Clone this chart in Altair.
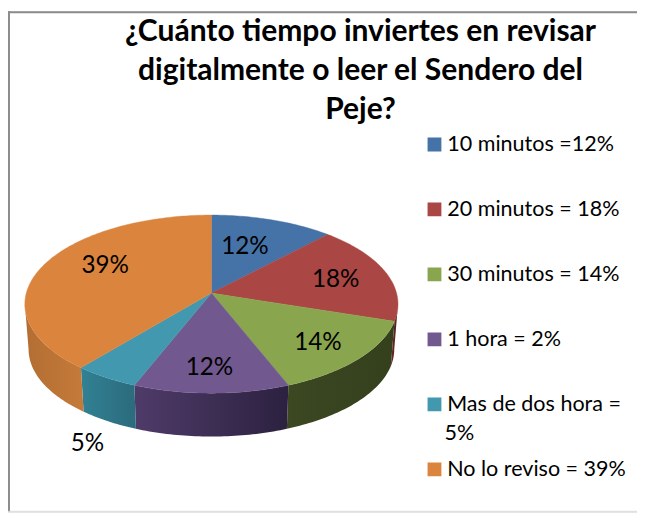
import math
import altair as alt

# ---- data ----
categories = ["10 minutos =12%", "20 minutos = 18%", "30 minutos = 14%", "1 hora = 2%",
              "Mas de dos hora = 5%", "No lo reviso = 39%"]
slice_values = [12, 18, 14, 12, 5, 39]
slice_labels = ["12%", "18%", "14%", "12%", "5%", "39%"]
colors = ["#4572A7", "#AA4643", "#89A54E", "#71588F", "#4198AF", "#DB843D"]
title_lines = ["¿Cuánto tiempo inviertes en revisar",
               "digitalmente o leer el Sendero del", "Peje?"]

# ---- layout of the tilted pie ----
W, H = 637, 507
OFF = 8
CX, CY = 214 - OFF, 293.5 - OFF
A, B, K = 187.5, 88.8, 0.1236
WALL_CY, WALL_S = 339.5 - OFF, 0.98
label_r = [0.59, 0.70, 0.76, 0.77, 1.52, 0.68]
label_turn = [-2.4, 2.1, 1.8, 0.7, -9.3, 8.8]
wall_fill = {
    1: ("#6a2a28", "#4e1f1e"),
    2: ("#3c4822", "#343f1c"),
    3: ("#4f3b69", "#2c2140"),
    4: ("#318194", "#2b6b7c"),
    5: ("#b46e32", "#c47a3a"),
}
# angles where the rim of the tilted disc reaches its left and right extremes
T_RIGHT = math.degrees(math.acos(-K))
T_LEFT = 360 - T_RIGHT


def top(t_deg, r=1.0):
    t = math.radians(t_deg)
    u, v = r * math.sin(t), r * math.cos(t)
    d = 1 + K * v
    return [CX + A * u / d, CY - B * v / d]


def bottom(t_deg):
    t = math.radians(t_deg)
    u, v = math.sin(t), math.cos(t)
    d = 1 + K * v
    return [CX + WALL_S * A * u / d, WALL_CY - WALL_S * B * v / d]


def samples(a, b):
    n = max(2, int(abs(b - a)) + 1)
    return [a + (b - a) * i / (n - 1) for i in range(n)]


edges = [0]
for v in slice_values:
    edges.append(edges[-1] + v * 360 / sum(slice_values))

top_features, walls = [], []
for i, name in enumerate(categories):
    a, b = edges[i], edges[i + 1]
    ring = [[CX, CY]] + [top(t) for t in samples(a, b)] + [[CX, CY]]
    top_features.append({"type": "Feature", "properties": {"name": name},
                         "geometry": {"type": "Polygon", "coordinates": [ring]}})
    if i in wall_fill:
        lo, hi = (max(a, T_RIGHT), min(b, T_LEFT))
        ts = samples(lo, hi)
        w = [top(t) for t in ts] + [bottom(t) for t in reversed(ts)]
        w.append(w[0])
        walls.append((i, {"type": "Feature", "properties": {"name": name},
                          "geometry": {"type": "Polygon", "coordinates": [w]}}))


def geo(features):
    return alt.Data(values={"type": "FeatureCollection", "features": features},
                    format=alt.DataFormat(type="json", property="features"))


wall_layers = []
for i, f in walls:
    c0, c1 = wall_fill[i]
    grad = alt.Gradient(gradient="linear", x1=0, x2=1, y1=0, y2=0,
                        stops=[alt.GradientStop(color=c0, offset=0),
                               alt.GradientStop(color=c1, offset=1)])
    wall_layers.append(alt.Chart(geo([f])).mark_geoshape(fill=grad)
                       .project(type="identity", scale=1, translate=[0, 0]))

faces = (
    alt.Chart(geo(top_features))
    .mark_geoshape(strokeWidth=0.4)
    .encode(
        color=alt.Color(
            "properties.name:N",
            scale=alt.Scale(domain=categories, range=colors),
            sort=categories,
            legend=alt.Legend(
                title=None, orient="none", legendX=429 - OFF, legendY=110.5 - OFF,
                symbolType="square", symbolSize=196, symbolStrokeWidth=0,
                labelFont="Lato", labelFontSize=21.8, labelColor="#000000",
                labelLimit=300, clipHeight=65, rowPadding=0.8, symbolOffset=0, labelOffset=2,
                padding=0,
                labelExpr="replace(datum.label, 'Mas de dos hora = 5%', 'Mas de dos hora =')",
            ),
        ),
        stroke=alt.Color("properties.name:N",
                         scale=alt.Scale(domain=categories, range=colors), legend=None),
    )
    .project(type="identity", scale=1, translate=[0, 0])
)

mids = [(edges[i] + edges[i + 1]) / 2 for i in range(len(slice_values))]
pts = [top(m + tn, r) for m, tn, r in zip(mids, label_turn, label_r)]
slice_rows = [{"lab": l, "px": p[0], "py": p[1]} for l, p in zip(slice_labels, pts)]
slice_text = (
    alt.Chart(alt.Data(values=slice_rows))
    .mark_text(font="Lato", fontSize=24.5, color="#000000", align="center", baseline="middle")
    .encode(x=alt.X("px:Q", scale=None, axis=None), y=alt.Y("py:Q", scale=None, axis=None),
            text="lab:N")
)

# second line of the wrapped legend entry
wrap_text = (
    alt.Chart(alt.Data(values=[{"lab": "5%", "px": 450 - OFF, "py": 435 - OFF}]))
    .mark_text(font="Lato", fontSize=21.8, color="#000000", align="left", baseline="middle")
    .encode(x=alt.X("px:Q", scale=None, axis=None), y=alt.Y("py:Q", scale=None, axis=None),
            text="lab:N")
)

frame = [
    alt.Chart(alt.Data(values=[{"a": 0}])).mark_rule(color="#8c8c8c", strokeWidth=2)
    .encode(x=alt.value(1), y=alt.value(0), y2=alt.value(H)),
    alt.Chart(alt.Data(values=[{"a": 0}])).mark_rule(color="#8c8c8c", strokeWidth=2)
    .encode(x=alt.value(0), x2=alt.value(W), y=alt.value(1)),
    alt.Chart(alt.Data(values=[{"a": 0}])).mark_rule(color="#d9d9d9", strokeWidth=1)
    .encode(x=alt.value(0), x2=alt.value(W), y=alt.value(H - 0.5)),
]

chart = (
    alt.layer(*frame, *wall_layers, faces, slice_text, wrap_text)
    .properties(
        width=W, height=H, padding=0,
        autosize=alt.AutoSizeParams(type="none"),
        title=alt.TitleParams(
            text=title_lines, font="Lato", fontSize=30.4, fontWeight="bold", color="#000000",
            anchor="middle", frame="group", dx=365 - OFF - W / 2, dy=117, lineHeight=39.7,
            baseline="top", offset=0,
        ),
    )
    .resolve_scale(color="shared")
    .configure_view(stroke=None)
    .configure(background="#ffffff")
)

chart.save("out.html", embed_options={"renderer": "svg", "actions": False})
